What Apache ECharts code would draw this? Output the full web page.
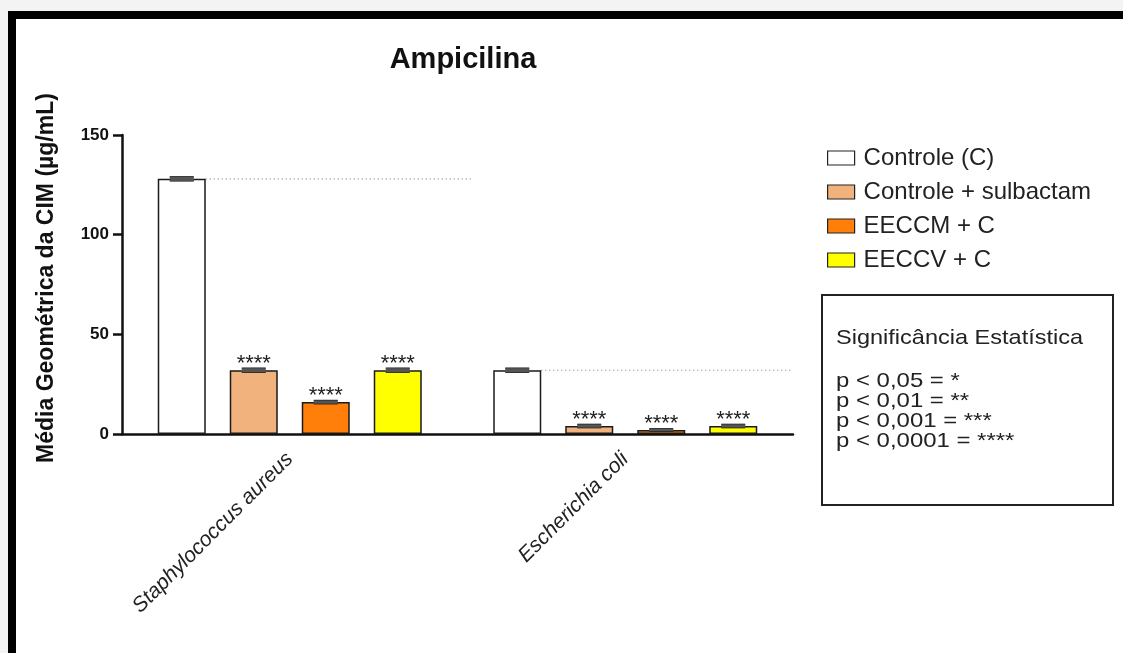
<!DOCTYPE html>
<html>
<head>
<meta charset="utf-8">
<script src="https://cdn.jsdelivr.net/npm/echarts@6/dist/echarts.min.js"></script>
<style>
html,body{margin:0;padding:0;background:#fff;}
#chart{width:1123px;height:653px;}
</style>
</head>
<body>
<div id="chart"></div>
<script>
// ---- data ----
const categories = ['Staphylococcus aureus', 'Escherichia coli'];
const seriesNames = ['Controle (C)', 'Controle + sulbactam', 'EECCM + C', 'EECCV + C'];
const controle = [128, 32];
const sulbactam = [32, 4];
const eeccm = [16, 2];
const eeccv = [32, 4];
const errControle = [1, 1];
const errSulbactam = [1, 0.8];
const errEeccm = [0.8, 0.6];
const errEeccv = [1, 0.8];
const sigControle = ['', ''];
const sigSulbactam = ['****', '****'];
const sigEeccm = ['****', '****'];
const sigEeccv = ['****', '****'];
const yTicks = [0, 50, 100, 150];
const yTitle = 'Média Geométrica da CIM (µg/mL)';
const chartTitle = 'Ampicilina';
const sigBoxTitle = 'Significância Estatística';
const sigBoxLines = ['p < 0,05 = *', 'p < 0,01 = **', 'p < 0,001 = ***', 'p < 0,0001 = ****'];

const colors = ['#ffffff', '#f2b27e', '#ff7f0a', '#ffff00'];
const values = [controle, sulbactam, eeccm, eeccv];
const errs = [errControle, errSulbactam, errEeccm, errEeccv];
const sigs = [sigControle, sigSulbactam, sigEeccm, sigEeccv];

const BAR_W = 48, STEP = 72;
const FONT = 'Liberation Sans, Arial, sans-serif';

const chart = echarts.init(document.getElementById('chart'));

const series = [];
values.forEach((vals, si) => {
  series.push({
    name: seriesNames[si],
    type: 'bar',
    data: vals,
    barWidth: BAR_W,
    barGap: '50%',
    itemStyle: { color: colors[si], borderColor: '#1a1a1a', borderWidth: 1.5 },
    label: {
      show: true, position: 'top', distance: -5,
      formatter: p => sigs[si][p.dataIndex],
      fontFamily: FONT, fontSize: 22, color: '#222'
    },
    z: 2
  });
});

// error bars
const errData = [];
values.forEach((vals, si) => vals.forEach((v, ci) => errData.push([ci, v, errs[si][ci], si])));
series.push({
  type: 'custom', name: 'err', silent: true, z: 5,
  data: errData,
  encode: { x: 0, y: 1 },
  renderItem: (params, api) => {
    const ci = api.value(0), v = api.value(1), e = api.value(2), si = api.value(3);
    const c = api.coord([ci, v]);
    const x = c[0] + (si - 1.5) * STEP;
    const yTop = api.coord([ci, v + e])[1];
    const yBot = api.coord([ci, v - e])[1];
    const hw = 12;
    const st = { stroke: '#222', lineWidth: 1.5 };
    return { type: 'group', children: [
      { type: 'line', shape: { x1: x, y1: yTop, x2: x, y2: yBot }, style: st },
      { type: 'line', shape: { x1: x - hw, y1: yTop, x2: x + hw, y2: yTop }, style: st },
      { type: 'line', shape: { x1: x - hw, y1: yBot, x2: x + hw, y2: yBot }, style: st },
      { type: 'rect', shape: { x: x - hw, y: yTop, width: 2 * hw, height: Math.max(yBot - yTop, 1) }, style: { fill: '#555' } }
    ]};
  }
});

// dotted reference lines at control level
series.push({
  type: 'custom', name: 'ref', silent: true, z: 1,
  data: controle.map((v, ci) => [ci, v]),
  encode: { x: 0, y: 1 },
  renderItem: (params, api) => {
    const ci = api.value(0), v = api.value(1);
    const c = api.coord([ci, v]);
    const band = api.size([1, 0])[0];
    const last = api.coord([categories.length - 1, 0])[0] + band / 2 - 1;
    const x1 = c[0] - 1.5 * STEP + BAR_W / 2;
    const x2 = Math.min(c[0] + 181, last);
    return { type: 'line', shape: { x1: x1, y1: c[1], x2: x2, y2: c[1] },
      style: { stroke: '#7a7a7a', lineWidth: 1, lineDash: [1, 3] } };
  }
});

const graphic = [
  { type: 'rect', shape: { x: 0, y: 0, width: 1123, height: 11 }, style: { fill: '#f3f3f3' }, z: -10 },
  { type: 'rect', shape: { x: 0, y: 0, width: 8, height: 653 }, style: { fill: '#f3f3f3' }, z: -10 },
  { type: 'rect', shape: { x: 8, y: 11, width: 1115, height: 8 }, style: { fill: '#000' }, z: -9 },
  { type: 'rect', shape: { x: 8, y: 11, width: 8, height: 642 }, style: { fill: '#000' }, z: -9 },
  { type: 'rect', shape: { x: 822, y: 295, width: 291, height: 210 }, style: { fill: 'none', stroke: '#222', lineWidth: 2 } },
  { type: 'text', x: 836, y: 328, scaleX: 1.12, style: { text: sigBoxTitle, font: '21px ' + FONT, fill: '#222' } },
  { type: 'text', x: 836, y: 371, scaleX: 1.14, style: { text: sigBoxLines.join('\n'), font: '21px ' + FONT, fill: '#222', lineHeight: 20 } },
  { type: 'text', x: 47, y: 278, rotation: Math.PI / 2,
    style: { text: yTitle, font: 'bold 23px ' + FONT, fill: '#111', align: 'center', verticalAlign: 'middle' } }
];

chart.setOption({
  backgroundColor: '#ffffff',
  animation: false,
  title: {
    text: chartTitle, left: 458, top: 40, textAlign: 'center',
    textStyle: { fontFamily: FONT, fontSize: 29, fontWeight: 'bold', color: '#111' }
  },
  legend: {
    data: seriesNames, orient: 'vertical', left: 822, top: 141,
    itemWidth: 27, itemHeight: 14, itemGap: 10, icon: 'rect',
    itemStyle: { borderColor: '#222', borderWidth: 1.2 },
    textStyle: { fontFamily: FONT, fontSize: 24, color: '#222', padding: [0, 0, 0, 4] }
  },
  grid: { left: 122, right: 330, top: 135, bottom: 219, containLabel: false },
  xAxis: {
    type: 'category', data: categories,
    axisLine: { lineStyle: { color: '#111', width: 2.5 } },
    axisTick: { alignWithLabel: true, length: 10, lineStyle: { color: '#111', width: 2.5 } },
    axisLabel: { rotate: 45, margin: 22, fontFamily: FONT, fontSize: 21, fontStyle: 'italic', color: '#222' }
  },
  yAxis: {
    type: 'value', min: 0, max: 150, interval: 50,
    splitLine: { show: false },
    axisLine: { show: true, lineStyle: { color: '#111', width: 2.5 } },
    axisTick: { show: true, length: 9, lineStyle: { color: '#111', width: 2.5 } },
    axisLabel: { margin: 13, fontFamily: FONT, fontSize: 17, fontWeight: 'bold', color: '#111',
      formatter: v => yTicks.includes(v) ? String(v) : '' }
  },
  graphic: graphic,
  series: series
});
</script>
</body>
</html>
